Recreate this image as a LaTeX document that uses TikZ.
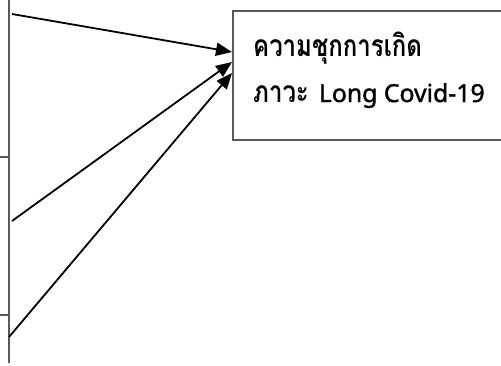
\documentclass[tikz,border=0pt]{standalone}
\usepackage{fontspec}
\newfontfamily\thaifont[Script=Thai]{Loma}
\newfontfamily\latinfont[FakeBold=1.5]{Noto Sans}
\usetikzlibrary{arrows.meta}
\newcommand\tallthai[1]{\scalebox{1}[1.25]{#1}}
\begin{document}
\begin{tikzpicture}[x=1pt,y=-1pt,
  frame/.style={draw=black!65, line width=1.8pt},
  link/.style={draw=black, line width=1.8pt, -{Triangle[length=16pt,width=13pt]}},
  boxtext/.style={font=\thaifont\bfseries\fontsize{24}{46}\selectfont, align=left, inner sep=0pt, anchor=base west}
]
\useasboundingbox (0,0) rectangle (501,365);
\clip (0,0) rectangle (501,365);
% partial boxes at left edge
\draw[frame] (9,-5) -- (9,363);
\draw[frame] (-5,157) -- (9,157);
\draw[frame] (-5,315) -- (9,315);
% target box
\node[frame, draw, rectangle, anchor=north west, minimum width=300pt, minimum height=129pt, inner sep=0pt] (box) at (232,10) {};
\node[boxtext] (lbl) at (253,102) {\tallthai{ความชุกการเกิด}\\\tallthai{ภาวะ}\hspace{10pt}{\latinfont\fontsize{24.8}{46}\selectfont Long Covid-19}};
% sources and targets
\coordinate (s1) at (12,14);
\coordinate (s2) at (12,221);
\coordinate (s3) at (9,337);
\coordinate (t1) at (232,52);
\coordinate (t2) at (232,62);
\coordinate (t3) at (232,73);
\draw[link] (s1) -- (t1);
\draw[link] (s2) -- (t2);
\draw[link] (s3) -- (t3);
\end{tikzpicture}
\end{document}
